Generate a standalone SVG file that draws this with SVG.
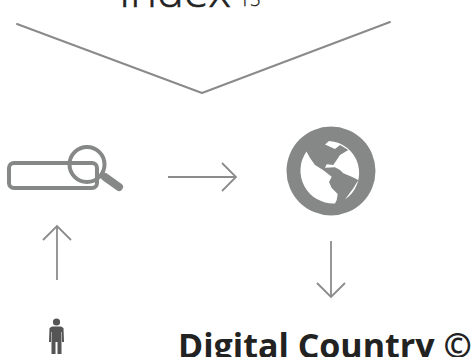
<svg xmlns="http://www.w3.org/2000/svg" width="473" height="357" viewBox="0 0 473 357">
<style>
.line{fill:none;stroke:#8a8a8a;stroke-width:2;stroke-linecap:round;stroke-linejoin:round}
.arrow{fill:none;stroke:#8c8c8c;stroke-width:1.8}
.icon{fill:none;stroke:#868887;stroke-width:4}
.t{font-family:"Open Sans","Noto Sans",sans-serif;fill:#222}
</style>
<g id="title">
<text class="t" x="119" y="7" font-size="45" font-weight="300" stroke="#222" stroke-width="0.6">Index</text>
<text class="t" x="239" y="6" font-size="19" font-weight="300" stroke="#222" stroke-width="0.3">15</text>
</g>
<g id="connectors">
<path class="line" d="M17 24L202 93L390 22"/>
<path class="arrow" d="M168 177H236M222 163L236 177L222 191"/>
<path class="arrow" d="M57 280V226M43 240L57 226L71 240"/>
<path class="arrow" d="M331 241V297M317 283L331 297L345 283"/>
</g>
<g id="search">
<rect class="icon" x="9" y="163" width="88" height="25" rx="5"/>
<circle class="icon" cx="87" cy="164.500" r="17.500"/>
<path d="M105 177L119 187" fill="none" stroke="#868887" stroke-width="8" stroke-linecap="round"/>
</g>
<g id="globe">
<circle cx="331" cy="171" r="44.500" fill="#868887"/>
<path fill="#fff" d="M306.500 151.500L310 158L315 165L323 170L331.700 176.700L329 182L331.700 188L337.700 194L336.700 200L335 203.500A33 33 0 0 1 306.500 151.500Z"/>
<path fill="#fff" d="M325 144.500L329 141A32 32 0 0 1 345 199.500L353.300 188.300L358.300 180L351.700 176.700L343.300 173.300L340 170L335 167.300L325 167.700L326.700 164.300L333.300 165L336.700 160L340 155L348.300 150L340 145L335 149Z"/>
</g>
<g id="person">
<circle cx="56.500" cy="322" r="3.600" fill="#555"/>
<path fill="#555" d="M52 326.500H61L63.500 328L64 342H62V332H61.500V354H57.500V342H55.500V354H51.500V332H51V342H49L49.500 328Z"/>
</g>
<g id="label">
<text class="t" x="178" y="358" font-size="34" font-weight="700">Digital Country ©</text>
</g>
</svg>
